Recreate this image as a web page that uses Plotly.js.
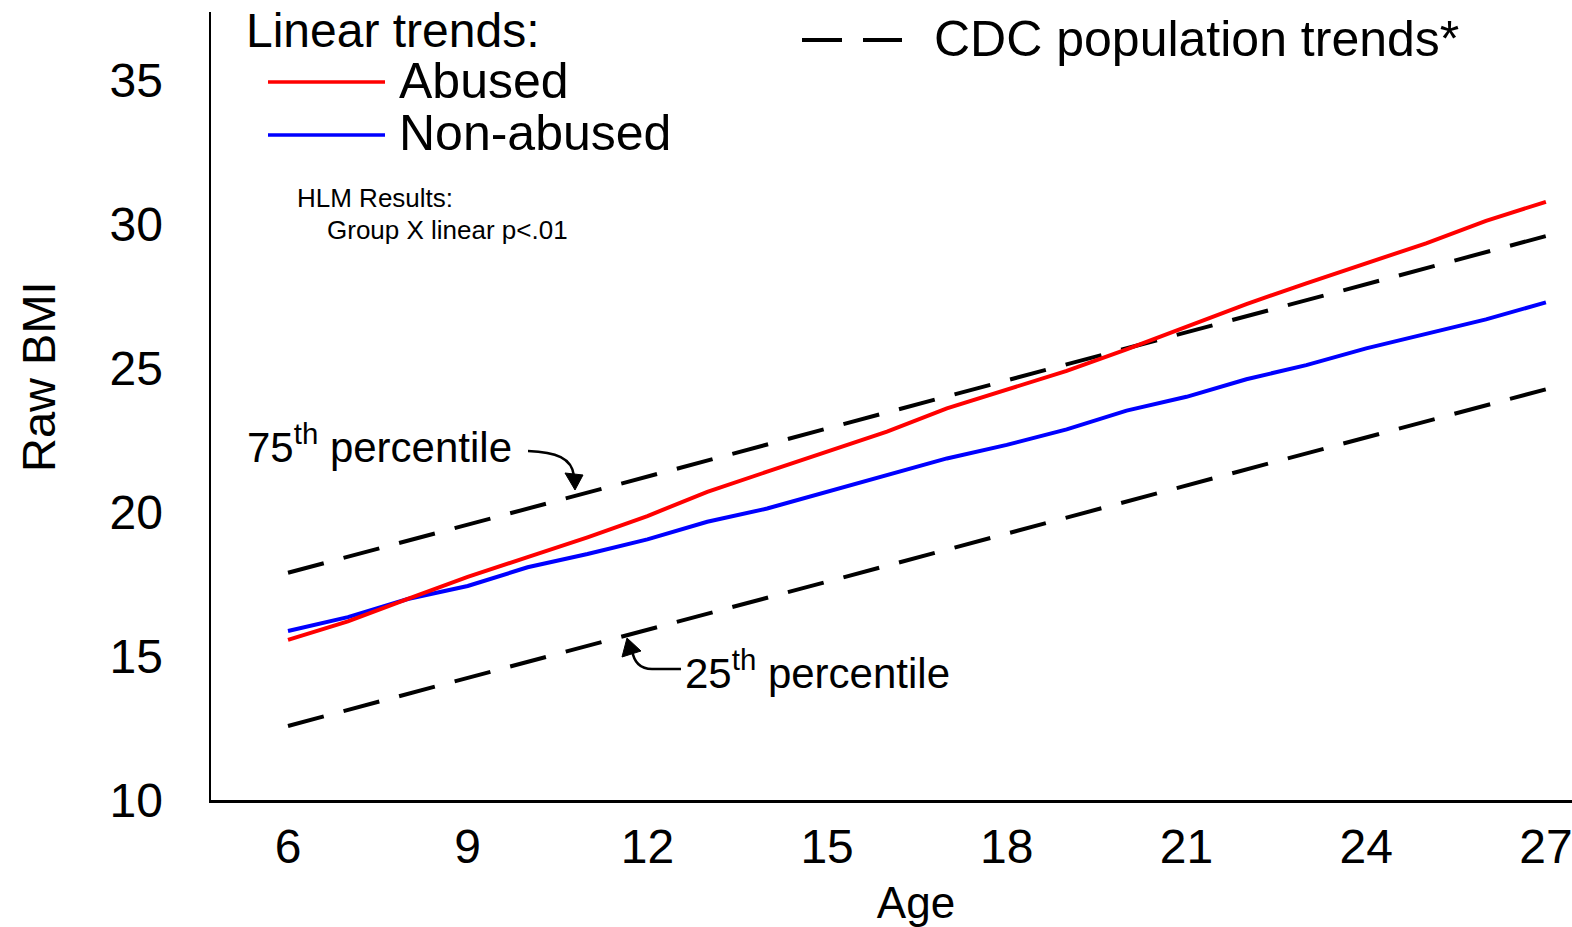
<!DOCTYPE html>
<html>
<head>
<meta charset="utf-8">
<script src="https://cdn.plot.ly/plotly-3.0.1.min.js"></script>
<style>
html,body{margin:0;padding:0;overflow:hidden;background:#fff;}
#chart{width:1621px;height:927px;}
</style>
</head>
<body>
<div id="chart"></div>
<script>
// ---- data ----
const ages = [6,7,8,9,10,11,12,13,14,15,16,17,18,19,20,21,22,23,24,25,26,27];
const abused = [15.56,16.2,16.98,17.75,18.43,19.12,19.86,20.70,21.40,22.09,22.79,23.60,24.24,24.90,25.65,26.43,27.22,27.94,28.63,29.33,30.11,30.77];
const nonAbused = [15.87,16.35,16.98,17.43,18.08,18.54,19.05,19.66,20.12,20.70,21.25,21.86,22.33,22.87,23.52,24.00,24.61,25.10,25.68,26.18,26.69,27.28];
const cdcAges = [6,27];
const cdc75 = [17.89,29.58];
const cdc25 = [12.57,24.26];
const xTicks = [6,9,12,15,18,21,24,27];
const yTicks = [10,15,20,25,30,35];

// ---- layout helpers (pixel -> paper) ----
const W = 1621, H = 927, L = 211, T = 12, B = 127;
const PW = W - L, PH = H - T - B;
const px = x => (x - L) / PW;
const py = y => (H - B - y) / PH;
const P = (x, y) => px(x).toFixed(5) + ',' + py(y).toFixed(5);

const FONT = 'Liberation Sans, Arial, sans-serif';

const traces = [
  {x: cdcAges, y: cdc75, mode: 'lines', line: {color: '#000', width: 4, dash: '37px,20.5px'}, hoverinfo: 'skip'},
  {x: cdcAges, y: cdc25, mode: 'lines', line: {color: '#000', width: 4, dash: '37px,20.5px'}, hoverinfo: 'skip'},
  {x: ages, y: nonAbused, mode: 'lines', name: 'Non-abused', line: {color: '#0000ff', width: 4}},
  {x: ages, y: abused, mode: 'lines', name: 'Abused', line: {color: '#ff0000', width: 4}}
];

function ann(text, x, y, size, extra) {
  return Object.assign({
    text: text, xref: 'paper', yref: 'paper', x: px(x), y: py(y),
    xanchor: 'left', yanchor: 'middle', showarrow: false,
    font: {family: FONT, size: size, color: '#000'}
  }, extra || {});
}

const annotations = [
  ann('Linear trends:', 244, 30, 48),
  ann('Abused', 397, 81, 50),
  ann('Non-abused', 397, 133, 50),
  ann('HLM Results:', 295, 198, 26),
  ann('Group X linear p&lt;.01', 325, 230, 26),
  ann('CDC population trends*', 932, 39, 50),
  ann('75<sup>th</sup> percentile', 245, 444, 42),
  ann('25<sup>th</sup> percentile', 683, 670, 42),
  ann('Raw BMI', 38, 377, 47, {xanchor: 'center', textangle: -90})
];

const shapes = [
  {type: 'line', xref: 'paper', yref: 'paper', x0: px(268), x1: px(385), y0: py(82), y1: py(82), line: {color: '#ff0000', width: 3.5}},
  {type: 'line', xref: 'paper', yref: 'paper', x0: px(268), x1: px(385), y0: py(135), y1: py(135), line: {color: '#0000ff', width: 3.5}},
  {type: 'line', xref: 'paper', yref: 'paper', x0: px(802), x1: px(842), y0: py(40), y1: py(40), line: {color: '#000', width: 4}},
  {type: 'line', xref: 'paper', yref: 'paper', x0: px(863), x1: px(902), y0: py(40), y1: py(40), line: {color: '#000', width: 4}},
  // 75th percentile arrow
  {type: 'path', xref: 'paper', yref: 'paper', path: 'M' + P(528,451) + ' C' + P(556,452) + ' ' + P(572,458) + ' ' + P(574,476), line: {color: '#000', width: 2.5}},
  {type: 'path', xref: 'paper', yref: 'paper', path: 'M' + P(565,473) + ' L' + P(583,475) + ' L' + P(575,490) + ' Z', fillcolor: '#000', line: {color: '#000', width: 1}},
  // 25th percentile arrow
  {type: 'path', xref: 'paper', yref: 'paper', path: 'M' + P(681,669) + ' L' + P(652,669) + ' C' + P(641,669) + ' ' + P(634,663) + ' ' + P(632,650), line: {color: '#000', width: 2.5}},
  {type: 'path', xref: 'paper', yref: 'paper', path: 'M' + P(627,638) + ' L' + P(622,657) + ' L' + P(641,651) + ' Z', fillcolor: '#000', line: {color: '#000', width: 1}}
];

const layout = {
  width: W, height: H,
  margin: {l: L, r: 0, t: T, b: B, pad: 0},
  paper_bgcolor: '#fff', plot_bgcolor: '#fff',
  showlegend: false,
  font: {family: FONT, color: '#000'},
  xaxis: {
    range: [6 - 77/59.9, 6 + (W - 288)/59.9],
    tickvals: xTicks, ticktext: xTicks.map(String),
    showline: true, linecolor: '#000', linewidth: 2.5,
    showgrid: false, zeroline: false, ticks: '',
    ticklabelstandoff: 3,
    tickfont: {family: FONT, size: 48, color: '#000'},
    title: {text: 'Age', font: {family: FONT, size: 44, color: '#000'}, standoff: 17}
  },
  yaxis: {
    range: [10, 10 + PH/28.8],
    tickvals: yTicks, ticktext: yTicks.map(String),
    showline: true, linecolor: '#000', linewidth: 2.5,
    showgrid: false, zeroline: false, ticks: '',
    ticklabelstandoff: 36,
    tickfont: {family: FONT, size: 48, color: '#000'}
  },
  annotations: annotations,
  shapes: shapes
};

Plotly.newPlot('chart', traces, layout, {staticPlot: true, displayModeBar: false});
</script>
</body>
</html>
